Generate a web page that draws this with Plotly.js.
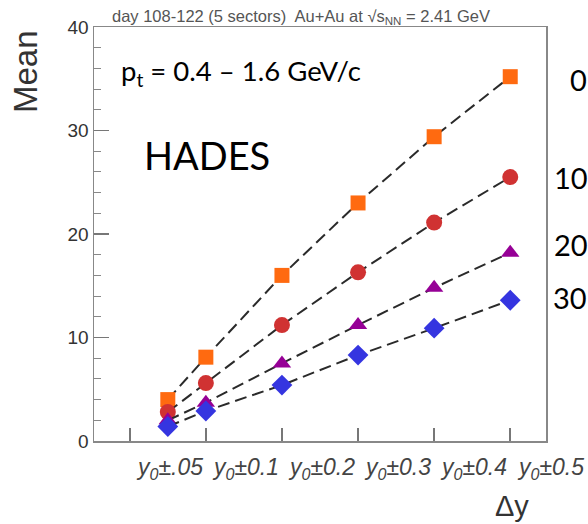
<!DOCTYPE html>
<html>
<head>
<meta charset="utf-8">
<script src="https://cdn.plot.ly/plotly-3.0.1.min.js"></script>
<style>html,body{margin:0;padding:0;background:#fff;}#chart{width:588px;height:524px;}</style>
</head>
<body>
<div id="chart"></div>
<script>
// ---- data ----
const deltaY = [0.05, 0.1, 0.2, 0.3, 0.4, 0.5];
const tickLabels = ["y<sub>0</sub>±.05", "y<sub>0</sub>±0.1", "y<sub>0</sub>±0.2", "y<sub>0</sub>±0.3", "y<sub>0</sub>±0.4", "y<sub>0</sub>±0.5"];
const cent0_10  = [4.0, 8.1, 16.0, 23.0, 29.4, 35.2];
const cent10_20 = [2.8, 5.6, 11.2, 16.3, 21.1, 25.5];
const cent20_30 = [2.0, 3.7, 7.5, 11.2, 14.8, 18.2];
const cent30_40 = [1.4, 2.9, 5.4, 8.3, 10.9, 13.6];
const centralityLabels = ["0", "10", "20", "30"];
const titleText = "day 108-122 (5 sectors)  Au+Au at √s<sub>NN</sub> = 2.41 GeV";

// ---- layout helpers ----
const L = 94, R = 546, T = 27, B = 441, W = 588, H = 524;
const px = x => (x - L) / (R - L);
const py = y => (B - y) / (B - T);
const xRange = [-0.047, 0.547];
const xPaper = v => (v - xRange[0]) / (xRange[1] - xRange[0]);

const lineStyle = {color: '#2a2a2a', width: 2, dash: '12px,6px'};
function series(y, symbol, color, size) {
  return {x: deltaY, y: y, type: 'scatter', mode: 'lines+markers',
    line: lineStyle, marker: {symbol: symbol, color: color, size: size, line: {width: 0}},
    showlegend: false, hoverinfo: 'skip'};
}
const data = [
  series(cent0_10, 'square', '#ff6a10', 15),
  series(cent10_20, 'circle', '#d03232', 16),
  series(cent20_30, 'triangle-up', '#960096', 16),
  series(cent30_40, 'diamond', '#3535e0', 16)
];

const annotations = [];
tickLabels.forEach((t, i) => {
  annotations.push({x: xPaper(i * 0.1 + 0.05) + 0.004, xref: 'paper', y: py(468), yref: 'paper',
    text: '<i>' + t + '</i>', showarrow: false, xanchor: 'center', yanchor: 'middle',
    font: {family: 'Liberation Sans, Arial, sans-serif', size: 23, color: '#444'}});
});
annotations.push({x: px(301), y: py(17), xref: 'paper', yref: 'paper', text: titleText,
  showarrow: false, xanchor: 'center', yanchor: 'middle',
  font: {family: 'Liberation Sans, Arial, sans-serif', size: 16.5, color: '#555'}});
annotations.push({x: px(25), y: py(72), xref: 'paper', yref: 'paper', text: 'Mean', textangle: -90,
  showarrow: false, xanchor: 'center', yanchor: 'middle',
  font: {family: 'Liberation Sans, Arial, sans-serif', size: 33, color: '#333'}});
annotations.push({x: px(512), y: py(506), xref: 'paper', yref: 'paper', text: 'Δy',
  showarrow: false, xanchor: 'center', yanchor: 'middle',
  font: {family: 'Liberation Sans, Arial, sans-serif', size: 29, color: '#333'}});
annotations.push({x: px(119), y: py(72), xref: 'paper', yref: 'paper',
  text: 'p<sub>t</sub> = 0.4 – 1.6 GeV/c', showarrow: false, xanchor: 'left', yanchor: 'middle',
  font: {family: 'Lato, sans-serif', size: 27.5, color: '#000'}});
annotations.push({x: px(142), y: py(155), xref: 'paper', yref: 'paper', text: 'HADES',
  showarrow: false, xanchor: 'left', yanchor: 'middle',
  font: {family: 'Lato, sans-serif', size: 38, color: '#000'}});
const rightPos = [[568, 79], [552, 177], [552, 244], [551, 297]];
centralityLabels.forEach((t, i) => {
  annotations.push({x: px(rightPos[i][0]), y: py(rightPos[i][1]), xref: 'paper', yref: 'paper',
    text: t, showarrow: false, xanchor: 'left', yanchor: 'middle',
    font: {family: 'Lato, sans-serif', size: 29, color: '#000'}});
});

const layout = {
  width: W, height: H,
  margin: {l: L, r: W - R, t: T, b: H - B, pad: 0},
  paper_bgcolor: '#fff', plot_bgcolor: '#fff',
  xaxis: {range: xRange, tick0: 0, dtick: 0.1, ticks: 'inside', ticklen: 13, tickwidth: 1.5,
    tickcolor: '#777', showticklabels: false, showgrid: false, zeroline: false,
    showline: true, mirror: true, linecolor: '#888', linewidth: 1.5},
  yaxis: {range: [0, 40], tick0: 0, dtick: 10, ticks: 'inside', ticklen: 15, tickwidth: 1.5,
    tickcolor: '#777', minor: {dtick: 2, ticks: 'inside', ticklen: 7, tickwidth: 1, tickcolor: '#888'},
    showgrid: false, zeroline: false, showline: true, mirror: true, linecolor: '#888', linewidth: 1.5,
    tickfont: {family: 'Liberation Sans, Arial, sans-serif', size: 19, color: '#333'}},
  annotations: annotations
};
Plotly.newPlot('chart', data, layout, {displayModeBar: false, staticPlot: true});
</script>
</body>
</html>
